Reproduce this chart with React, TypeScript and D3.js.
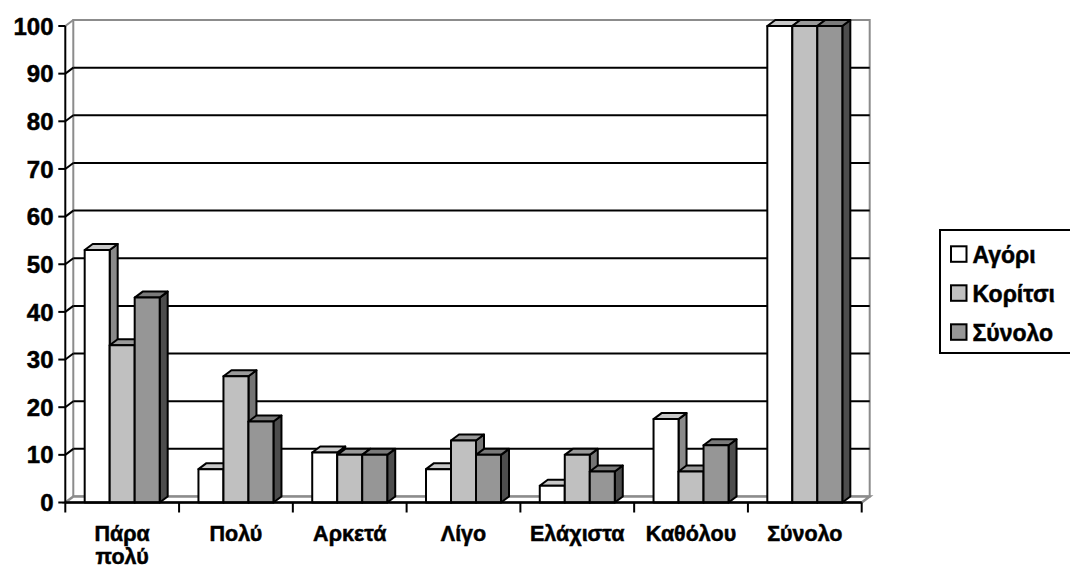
import React from "react";
import * as d3 from "d3";

const categories = ["Πάρα πολύ", "Πολύ", "Αρκετά", "Λίγο", "Ελάχιστα", "Καθόλου", "Σύνολο"];
const seriesNames = ["Αγόρι", "Κορίτσι", "Σύνολο"];
const agori = [53, 7, 10.5, 7, 3.5, 17.5, 100];
const koritsi = [33, 26.5, 10, 13, 10, 6.5, 100];
const synolo = [43, 17, 10, 10, 6.5, 12, 100];
const yTicks = [0, 10, 20, 30, 40, 50, 60, 70, 80, 90, 100];

const seriesValues = [agori, koritsi, synolo];
const frontColors = ["#ffffff", "#c0c0c0", "#969696"];
const topColors = ["#c8c8c8", "#9a9a9a", "#7a7a7a"];
const sideColors = ["#8a8a8a", "#747474", "#4d4d4d"];

const FONT = "'Liberation Sans', Arial, sans-serif";
const textStroke = { stroke: "#000", strokeWidth: 0.5 };

export default function App() {
  const W = 1070, H = 568;
  const x0 = 65.3, x1 = 861.7;
  const dx = 8, dy = 6;
  const y = d3.scaleLinear().domain([0, 100]).range([502.5, 26]);
  const x = d3.scaleBand<string>().domain(categories).range([x0, x1]).paddingInner(0).paddingOuter(0);
  const groupW = 75;
  const xs = d3.scaleBand<number>().domain([0, 1, 2]).range([0, groupW]).padding(0);
  const yb = (v: number) => y(v) - dy;
  const base = y(0);

  const bars: React.ReactNode[] = [];
  categories.forEach((c, ci) => {
    const left = (x(c) as number) + x.bandwidth() / 2 - groupW / 2;
    seriesValues.forEach((vals, si) => {
      const bx = left + (xs(si) as number);
      const w = xs.bandwidth();
      const t = y(vals[ci]);
      const side = `${bx + w},${t} ${bx + w + dx},${t - dy} ${bx + w + dx},${base - dy} ${bx + w},${base}`;
      const top = `${bx},${t} ${bx + dx},${t - dy} ${bx + w + dx},${t - dy} ${bx + w},${t}`;
      bars.push(
        <g key={`${ci}-${si}`} stroke="#000" strokeWidth={2} strokeLinejoin="round">
          <polygon points={side} fill={sideColors[si]} />
          <polygon points={top} fill={topColors[si]} />
          <rect x={bx} y={t} width={w} height={base - t} fill={frontColors[si]} />
        </g>
      );
    });
  });

  const gray = "#8c8c8c";
  const catEdges = [...categories.map((c) => x(c) as number), x1];

  return (
    <svg width={W} height={H} style={{ position: "absolute", left: 0, top: 0, background: "#fff" }}>
      {/* walls */}
      <polygon points={`${x0 + dx},${yb(100)} ${x1 + dx},${yb(100)} ${x1 + dx},${base - dy} ${x0 + dx},${base - dy}`} fill="#fff" stroke={gray} strokeWidth={2} />
      <polygon points={`${x0},${base} ${x0 + dx},${base - dy} ${x1 + dx},${base - dy} ${x1},${base}`} fill="#fff" stroke={gray} strokeWidth={2.5} />
      <line x1={x0} y1={y(100)} x2={x0 + dx} y2={yb(100)} stroke={gray} strokeWidth={2} />
      {/* gridlines */}
      {yTicks.filter((v) => v > 0 && v < 100).map((v) => (
        <g key={v} stroke="#000" strokeWidth={2}>
          <line x1={x0} y1={y(v)} x2={x0 + dx} y2={yb(v)} />
          <line x1={x0 + dx} y1={yb(v)} x2={x1 + dx} y2={yb(v)} />
        </g>
      ))}
      {bars}
      {/* axes */}
      <line x1={x0} y1={y(100)} x2={x0} y2={base} stroke="#000" strokeWidth={2} />
      <line x1={x0} y1={base} x2={x1} y2={base} stroke="#000" strokeWidth={2.5} />
      {yTicks.map((v) => (
        <g key={v}>
          <line x1={x0 - 7} y1={y(v)} x2={x0} y2={y(v)} stroke="#000" strokeWidth={2} />
          <text x={53.5} y={y(v)} dy="0.36em" textAnchor="end" fontFamily={FONT} fontWeight="bold" fontSize={24} {...textStroke}>{v}</text>
        </g>
      ))}
      {catEdges.map((e, i) => (
        <line key={i} x1={e} y1={base} x2={e} y2={base + 10} stroke="#000" strokeWidth={2} />
      ))}
      {categories.map((c) => {
        const cx = (x(c) as number) + x.bandwidth() / 2;
        const parts = c === "Πάρα πολύ" ? ["Πάρα", "πολύ"] : [c];
        return (
          <text key={c} x={cx} y={541.3} textAnchor="middle" fontFamily={FONT} fontWeight="bold" fontSize={21.5} {...textStroke}>
            {parts.map((p, i) => (
              <tspan key={i} x={cx} dy={i === 0 ? 0 : 23}>{p}</tspan>
            ))}
          </text>
        );
      })}
      {/* legend */}
      <rect x={940} y={230} width={140} height={123} fill="#fff" stroke="#000" strokeWidth={2} />
      {seriesNames.map((s, i) => {
        const bl = 263.3 + i * 39;
        return (
          <g key={s}>
            <rect x={951} y={bl - 17} width={15.5} height={15.5} fill={frontColors[i]} stroke="#000" strokeWidth={2} />
            <text x={972.5} y={bl} fontFamily={FONT} fontWeight="bold" fontSize={23} {...textStroke}>{s}</text>
          </g>
        );
      })}
    </svg>
  );
}
